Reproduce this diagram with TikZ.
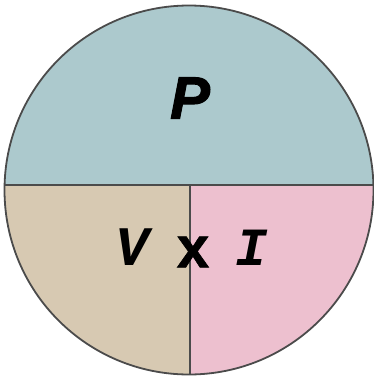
\documentclass[tikz,border=0pt]{standalone}
\usepackage{fontspec}
\setmainfont{Liberation Sans}
\newfontfamily\monofam{Liberation Mono}
\newfontfamily\heavyfam[FakeBold=1.6]{Liberation Sans Bold Italic}
\newfontfamily\heavyup[FakeBold=1.2]{Liberation Sans Bold}
\definecolor{topblue}{RGB}{172,201,205}
\definecolor{lefttan}{RGB}{215,201,178}
\definecolor{rightpink}{RGB}{237,192,207}
\definecolor{edge}{RGB}{75,75,75}
\tikzset{
  divline/.style={draw=edge, line width=1.8bp},
  bigletter/.style={inner sep=0pt, text=black}
}
\begin{document}
\begin{tikzpicture}[x=1bp,y=-1bp]
\useasboundingbox (0,0) rectangle (374,380);
\fill[white] (0,0) rectangle (374,380);
\coordinate (c) at (189,190);
\coordinate (hl) at (0,185);
\coordinate (hr) at (374,185);
\coordinate (vt) at (190,185);
\coordinate (vb) at (190,380);
\begin{scope}
  \clip (c) circle[radius=184.5bp];
  \fill[topblue] (0,0) rectangle (374,185);
  \fill[lefttan] (0,185) rectangle (190,380);
  \fill[rightpink] (190,185) rectangle (374,380);
  \draw[divline] (hl) -- (hr);
  \draw[divline] (vt) -- (vb);
\end{scope}
\draw[divline] (c) circle[radius=184.5bp];
\node[bigletter, font=\fontsize{60}{60}\selectfont\heavyfam] (p) at (190,98) {P};
\node[bigletter, font=\fontsize{56}{56}\selectfont\monofam\bfseries\itshape] (v) at (132,247) {V};
\node[bigletter, font=\fontsize{58}{58}\selectfont\heavyup] (x) at (193,252) {x};
\node[bigletter, font=\fontsize{54}{54}\selectfont\monofam\bfseries\itshape] (i) at (252,248) {I};
\end{tikzpicture}
\end{document}
